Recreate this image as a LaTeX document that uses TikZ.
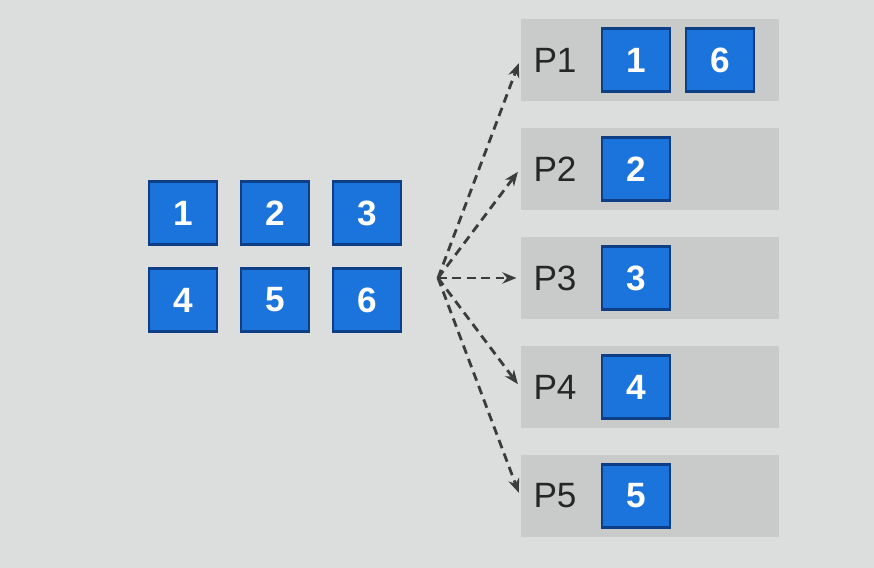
\documentclass[tikz,border=0pt]{standalone}
\usepackage{fontspec}
\setmainfont{Liberation Sans}
\usetikzlibrary{arrows.meta}
\definecolor{bgcol}{HTML}{DCDEDD}
\definecolor{rowcol}{HTML}{C9CACA}
\definecolor{itemcol}{HTML}{1A74DC}
\definecolor{itemedge}{HTML}{0E3F86}
\definecolor{arrowcol}{HTML}{3A3C3D}
\tikzset{
  item/.style={draw=itemedge, line width=0.6pt, fill=itemcol, text=white,
    minimum width=0.68cm, minimum height=0.63cm, inner sep=0pt,
    font=\fontsize{10}{12}\selectfont\bfseries},
  slot/.style={fill=rowcol, minimum width=2.58cm, minimum height=0.82cm,
    inner sep=0pt, anchor=west},
  plabel/.style={font=\fontsize{10}{12}\selectfont, text=black!85},
  dispatch/.style={-{Stealth[length=4pt,width=3.2pt]}, arrowcol,
    line width=0.8pt, dash pattern=on 2.5pt off 1.6pt, shorten >=1pt}
}
\begin{document}
\begin{tikzpicture}[x=0.01cm,y=-0.01cm]
  \fill[bgcol] (0,0) rectangle (874,568);
  % tasks
  \node[item] (b1) at (183,213) {1};
  \node[item] (b2) at (275,213) {2};
  \node[item] (b3) at (367,213) {3};
  \node[item] (b4) at (183,300) {4};
  \node[item] (b5) at (275,300) {5};
  \node[item] (b6) at (367,300) {6};
  % processors
  \node[slot] (p1) at (520,60) {};
  \node[slot] (p2) at (520,169) {};
  \node[slot] (p3) at (520,278) {};
  \node[slot] (p4) at (520,387) {};
  \node[slot] (p5) at (520,496) {};
  \node[plabel] (l1) at (555,60) {P1};
  \node[plabel] (l2) at (555,169) {P2};
  \node[plabel] (l3) at (555,278) {P3};
  \node[plabel] (l4) at (555,387) {P4};
  \node[plabel] (l5) at (555,496) {P5};
  \node[item] (q1) at (636,60) {1};
  \node[item] (q6) at (720,60) {6};
  \node[item] (q2) at (636,169) {2};
  \node[item] (q3) at (636,278) {3};
  \node[item] (q4) at (636,387) {4};
  \node[item] (q5) at (636,496) {5};
  % arrows
  \coordinate (fork) at (438,278);
  \draw[dispatch] (fork) -- (p1.west);
  \draw[dispatch] (fork) -- (p2.west);
  \draw[dispatch] (fork) -- (p3.west);
  \draw[dispatch] (fork) -- (p4.west);
  \draw[dispatch] (fork) -- (p5.west);
\end{tikzpicture}
\end{document}
